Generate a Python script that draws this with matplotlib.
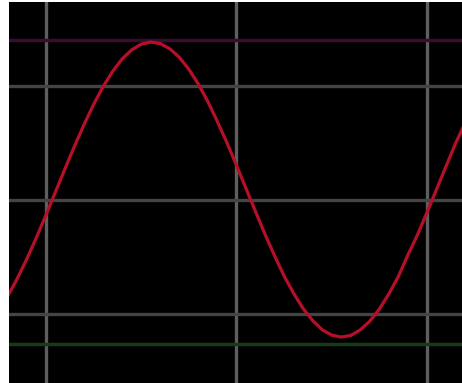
import matplotlib
matplotlib.use("Agg")
import matplotlib.pyplot as plt

# curve samples (x in grid divisions, y in grid units)
t = [0.80, 0.85, 0.90, 0.95, 1.00, 1.05, 1.10, 1.15, 1.20, 1.25, 1.30, 1.35,
     1.40, 1.45, 1.50, 1.55, 1.60, 1.65, 1.70, 1.75, 1.80, 1.85, 1.90, 1.95,
     2.00, 2.05, 2.10, 2.15, 2.20, 2.25, 2.30, 2.35, 2.40, 2.45, 2.50, 2.55,
     2.60, 2.65, 2.70, 2.75, 2.80, 2.85, 2.90, 2.95, 3.00, 3.05, 3.10, 3.15, 3.20]
signal = [-0.840, -0.687, -0.515, -0.329, -0.131, 0.071, 0.274, 0.473, 0.662, 0.838,
          0.994, 1.128, 1.238, 1.317, 1.367, 1.386, 1.372, 1.327, 1.252, 1.147,
          1.017, 0.863, 0.688, 0.503, 0.305, 0.102, -0.100, -0.301, -0.488, -0.665,
          -0.818, -0.952, -1.057, -1.138, -1.185, -1.202, -1.188, -1.139, -1.063,
          -0.957, -0.824, -0.670, -0.482, -0.307, -0.110, 0.092, 0.295, 0.496, 0.675]

x_grid = [1, 2, 3]
y_grid = [-1, 0, 1]
upper_level = 1.404
lower_level = -1.263

fig = plt.figure(figsize=(4.62, 3.83), dpi=100)
fig.patch.set_facecolor('white')
ax = fig.add_axes([9 / 462, 0, 453 / 462, 381 / 383])
ax.set_facecolor('black')

for xv in x_grid:
    ax.axvline(xv, color='#5e5e5e', lw=2.4, zorder=1)
for yv in y_grid:
    ax.axhline(yv, color='#444444', lw=2.4, zorder=1)

ax.axhline(upper_level, color='#3a0c30', lw=2.5, zorder=2)
ax.axhline(lower_level, color='#173a17', lw=2.5, zorder=2)

ax.plot(t, signal, color='#b80f28', lw=2.3, zorder=3)

ax.set_xlim(0.806, 3.184)
ax.set_ylim(-1.605, 1.737)
ax.set_xticks([])
ax.set_yticks([])
for s in ax.spines.values():
    s.set_visible(False)

fig.savefig('out.png', dpi=100, facecolor='white')
